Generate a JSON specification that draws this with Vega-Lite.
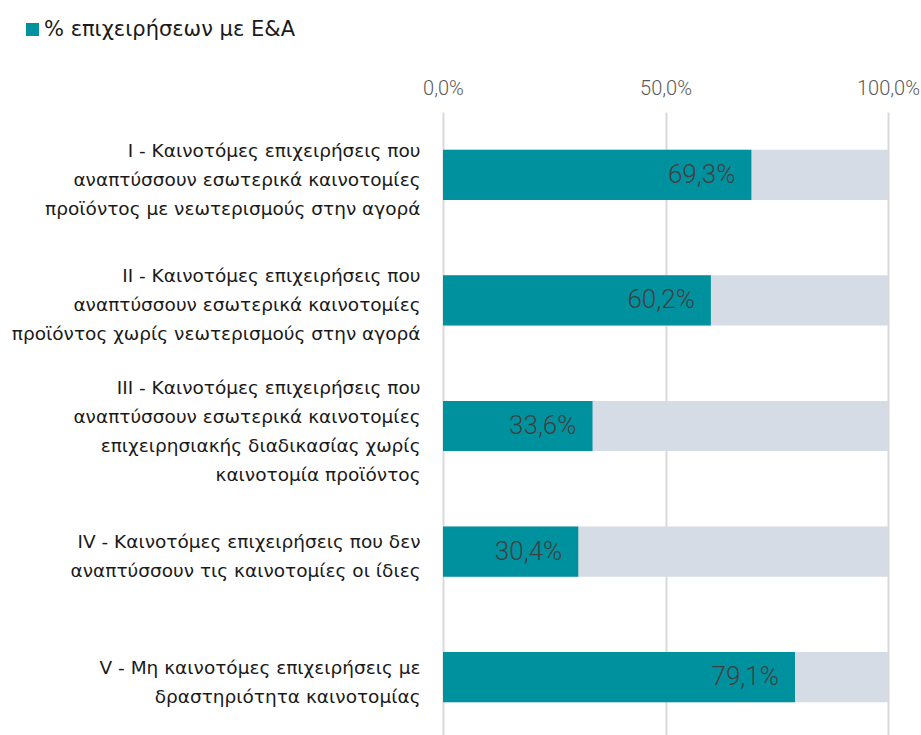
{
  "$schema": "https://vega.github.io/schema/vega-lite/v6.json",
  "autosize": "none",
  "padding": {"left": 443, "top": 112, "right": 33, "bottom": 0},
  "width": 445,
  "height": 628,
  "background": "white",
  "config": {
    "view": {"stroke": null},
    "locale": {"number": {"decimal": ",", "thousands": ".", "grouping": [3], "currency": ["", " €"]}}
  },
  "data": {
    "values": [
      {"cat": "I - Καινοτόμες επιχειρήσεις που|αναπτύσσουν εσωτερικά καινοτομίες|προϊόντος με νεωτερισμούς στην αγορά", "value": 0.693, "series": "% επιχειρήσεων με E&A"},
      {"cat": "II - Καινοτόμες επιχειρήσεις που|αναπτύσσουν εσωτερικά καινοτομίες|προϊόντος χωρίς νεωτερισμούς στην αγορά", "value": 0.602, "series": "% επιχειρήσεων με E&A"},
      {"cat": "III - Καινοτόμες επιχειρήσεις που|αναπτύσσουν εσωτερικά καινοτομίες|επιχειρησιακής διαδικασίας χωρίς|καινοτομία προϊόντος", "value": 0.336, "series": "% επιχειρήσεων με E&A"},
      {"cat": "IV - Καινοτόμες επιχειρήσεις που δεν|αναπτύσσουν τις καινοτομίες οι ίδιες", "value": 0.304, "series": "% επιχειρήσεων με E&A"},
      {"cat": "V - Μη καινοτόμες επιχειρήσεις με|δραστηριότητα καινοτομίας", "value": 0.791, "series": "% επιχειρήσεων με E&A"}
    ]
  },
  "encoding": {
    "y": {
      "field": "cat",
      "type": "nominal",
      "sort": null,
      "title": null,
      "scale": {"paddingInner": 0.6, "paddingOuter": 0.3},
      "axis": {
        "orient": "left",
        "domain": false,
        "ticks": false,
        "labelExpr": "split(datum.label, '|')",
        "labelFont": "DejaVu Sans",
        "labelFontSize": 18.5,
        "labelColor": "#1a1a1a",
        "labelLineHeight": 29,
        "labelPadding": 23,
        "labelLimit": 0,
        "labelAlign": "right",
        "labelBaseline": "middle",
        "labelOffset": {
          "condition": [
            {"test": "length(split(datum.value, '|')) == 4", "value": -38.5},
            {"test": "length(split(datum.value, '|')) == 3", "value": -24}
          ],
          "value": -9.5
        }
      }
    }
  },
  "layer": [
    {
      "mark": {"type": "bar", "color": "#d6dce5"},
      "encoding": {
        "x": {
          "datum": 1,
          "type": "quantitative",
          "scale": {"domain": [0, 1]},
          "title": null,
          "axis": {
            "orient": "top",
            "values": [0, 0.5, 1],
            "format": ".1%",
            "domain": false,
            "ticks": false,
            "grid": true,
            "gridColor": "#d9d9d9",
            "gridWidth": 2,
            "labelFont": "Roboto",
            "labelFontWeight": 300,
            "labelFontSize": 20,
            "labelColor": "#595959",
            "labelPadding": 14,
            "labelFlush": false
          }
        }
      }
    },
    {
      "mark": {"type": "bar"},
      "encoding": {
        "x": {"field": "value", "type": "quantitative", "title": null},
        "color": {
          "field": "series",
          "type": "nominal",
          "scale": {"range": ["#00919f"]},
          "legend": {
            "orient": "none",
            "legendX": -421,
            "legendY": -93,
            "title": null,
            "symbolType": "square",
            "symbolSize": 169,
            "symbolStrokeWidth": 0,
            "symbolOpacity": 1,
            "labelFont": "DejaVu Sans",
            "labelFontSize": 21,
            "labelColor": "#1a1a1a",
            "labelOffset": 1,
            "labelLimit": 0,
            "padding": 0
          }
        }
      }
    },
    {
      "mark": {"type": "text", "align": "right", "baseline": "middle", "dx": -16, "font": "Roboto", "fontWeight": 300, "fontSize": 26, "color": "#404040"},
      "encoding": {
        "x": {"field": "value", "type": "quantitative", "title": null},
        "text": {"field": "value", "type": "quantitative", "format": ".1%"}
      }
    }
  ]
}
